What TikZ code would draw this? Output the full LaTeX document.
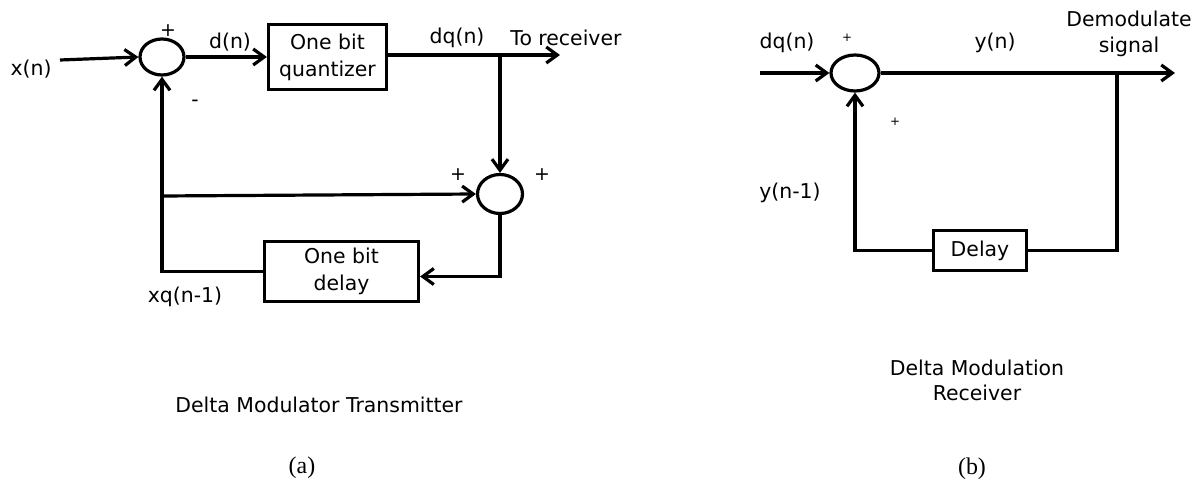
\documentclass[tikz,border=0pt]{standalone}
\usepackage{fontspec}
\setmainfont{DejaVu Sans}
\newfontfamily\capserif{Liberation Serif}
\usetikzlibrary{arrows.meta,shapes.geometric,calc}
\begin{document}
\begin{tikzpicture}[x=1bp,y=-1bp, line width=3.2bp,
  lbl/.style={font=\fontsize{20.5}{24}\selectfont, inner sep=0pt, align=center},
  plusbig/.style={font=\fontsize{19}{20}\selectfont, inner sep=0pt},
  plussmall/.style={font=\fontsize{12}{13}\selectfont, inner sep=0pt},
  blk/.style={draw, rectangle, align=center, inner sep=0pt, font=\fontsize{20.5}{27}\selectfont},
  sumnode/.style={draw, ellipse, inner sep=0pt},
  arr/.style={-{Straight Barb[length=11bp,width=16bp]}},
  capt/.style={font=\fontsize{20.5}{25}\selectfont, inner sep=0pt, align=center},
  sub/.style={font=\capserif\fontsize{24}{26}\selectfont, inner sep=0pt}]
\useasboundingbox (0,0) rectangle (1201,486);

% ---------- (a) transmitter ----------
\node[sumnode, minimum width=44bp, minimum height=36bp] (s1) at (162,57) {};
\node[blk, minimum width=118bp, minimum height=65bp] (q) at (327.5,57) {One bit\\quantizer};
\node[sumnode, minimum width=45bp, minimum height=39bp] (s2) at (500,194) {};
\node[blk, minimum width=154bp, minimum height=60bp] (d1) at (341.5,271.5) {One bit\\delay};

\coordinate (xin) at (60,60);
\coordinate (tx) at (560,55);
\coordinate (br) at (500,55);
\coordinate (fb) at (162,196);

\draw[arr] (xin) -- (s1.west);
\draw[arr] (s1.east) -- (q.west);
\draw[arr] (q.east |- tx) -- (tx);
\draw[arr] (br) -- (s2.north);
\draw[arr] (fb) -- (s2.west);
\draw[arr] (s2.south) |- ($(d1.east)+(0,5)$);
\draw[arr] (d1.west) -| (s1.south);

\node[lbl] (lxn) at (31,69) {x(n)};
\node[plusbig] (lp1) at (168,31) {+};
\node[lbl] (lm1) at (195,103) {-};
\node[lbl] (ldn) at (230,42) {d(n)};
\node[lbl] (ldq) at (457,38) {dq(n)};
\node[lbl] (ltr) at (566,38) {To receiver};
\node[plusbig] (lp2) at (458,175) {+};
\node[plusbig] (lp3) at (542,175) {+};
\node[lbl] (lxq) at (185,297) {xq(n-1)};
\node[capt] (capa) at (319,405) {Delta Modulator Transmitter};
\node[sub] (suba) at (302,468) {(a)};

% ---------- (b) receiver ----------
\node[sumnode, minimum width=48bp, minimum height=36bp] (r1) at (855,73) {};
\node[blk, minimum width=93bp, minimum height=40bp] (d2) at (980,250.5) {Delay};

\coordinate (rin) at (760,73);
\coordinate (rout) at (1175,73);
\coordinate (br2) at (1117,73);

\draw[arr] (rin) -- (r1.west);
\draw[arr] (r1.east) -- (rout);
\draw (br2) |- (d2.east);
\draw[arr] (d2.west) -| (r1.south);

\node[lbl] (rdq) at (787,43) {dq(n)};
\node[plussmall] (rp1) at (847,38) {+};
\node[lbl] (ryn) at (995,43) {y(n)};
\node[lbl, font=\fontsize{20.5}{26}\selectfont] (rdem) at (1129,34) {Demodulate\\signal};
\node[plussmall] (rp2) at (895,122) {+};
\node[lbl] (ryn1) at (790,193) {y(n-1)};
\node[capt] (capb) at (977,380) {Delta Modulation\\Receiver};
\node[sub] (subb) at (972,469) {(b)};
\end{tikzpicture}
\end{document}
